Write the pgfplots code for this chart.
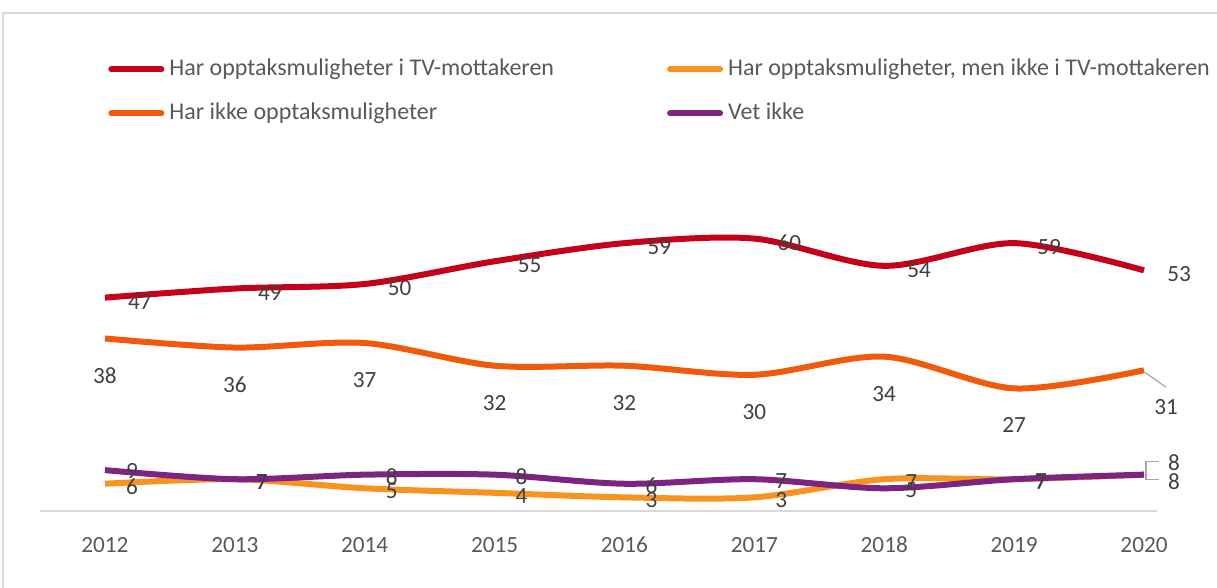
\documentclass[border=0pt]{standalone}
\usepackage{pgfplots}
\pgfplotsset{compat=1.18}
\usepackage{pgfplotstable}
\usepackage{fontspec}
\setmainfont{Carlito}
\definecolor{cRed}{RGB}{197,0,26}
\definecolor{cYel}{RGB}{247,147,30}
\definecolor{cOra}{RGB}{240,90,10}
\definecolor{cPur}{RGB}{125,35,128}
\definecolor{tickgray}{RGB}{89,89,89}
\definecolor{lblgray}{RGB}{64,64,64}
\definecolor{axgray}{RGB}{217,217,217}

\pgfplotstableread{
x y dx dy
0 47 17.5 -2
1 49 17.5 -2
2 50 17.5 -2
3 55 17.5 -2
4 59 17.5 -2
5 60 17.5 -2
6 54 17.5 -2
7 59 17.5 -2
8 53 17.5 -2
}\redtab
\pgfplotstableread{
x y dx dy
0 6 13.5 -1.5
1 7 13.5 -1.5
2 5 13.5 -1.5
3 4 13.5 -1.5
4 3 13.5 -1.5
5 3 13.5 -1.5
6 7 13.5 -1.5
7 7 13.5 -1.5
8 8 15 -3.5
}\yeltab
\pgfplotstableread{
x y dx dy
0 38 0 -18.5
1 36 0 -18.5
2 37 0 -18.5
3 32 0 -18.5
4 32 0 -18.5
5 30 0 -18.5
6 34 0 -18.5
7 27 0 -18.5
8 31 11 -18.5
}\oratab
\pgfplotstableread{
x y dx dy
0 9 13.5 -0.5
1 7 13.5 -1.5
2 8 13.5 -1
3 8 13.5 -1
4 6 13.5 -1
5 7 13.5 -1
6 5 13.5 -1
7 7 13.5 -1
8 8 15 6
}\purtab

\begin{document}
\begin{tikzpicture}
\useasboundingbox (0,0) rectangle (608.5pt,294pt);
\draw[axgray, line width=0.8pt] (1.5pt,-10pt) -- (1.5pt,287.5pt) -- (620pt,287.5pt);
\begin{axis}[
  at={(20pt,38.5pt)}, anchor=south west,
  scale only axis, width=558.5pt, height=227pt,
  xmin=-0.5, xmax=8.1, ymin=0, ymax=100,
  axis x line*=bottom, axis y line=none,
  x axis line style={draw=axgray, line width=1pt, -},
  xtick={0,1,2,3,4,5,6,7,8},
  xticklabels={2012,2013,2014,2015,2016,2017,2018,2019,2020},
  major tick length=0pt,
  xticklabel style={font=\fontsize{11.6}{13}\selectfont, text=tickgray, anchor=center, yshift=-17pt},
  /pgf/number format/assume math mode=true,
  clip=false,
  lbl/.style={
    nodes near coords,
    visualization depends on={\thisrow{dx} \as \dx},
    visualization depends on={\thisrow{dy} \as \dy},
    every node near coord/.append style={anchor=center, xshift=\dx pt, yshift=\dy pt,
      font=\fontsize{11.6}{13}\selectfont, text=lblgray, inner sep=0pt},
  },
  legend columns=2,
  legend cell align=left,
  legend image code/.code={\draw[#1, line width=3pt, line cap=round] (0pt,0pt) -- (25pt,0pt);},
  legend style={at={(0.0555,1.0)}, anchor=north west, yshift=1.5pt, draw=none, fill=none,
    font=\fontsize{12}{14}\selectfont, text=tickgray,
    row sep=11pt,
    nodes={inner sep=0pt, text height=8.5pt, text depth=2.5pt},
    /tikz/every even column/.append style={column sep=56.5pt},
    /tikz/every odd column/.append style={column sep=2.5pt}},
]
\addplot[cRed, line width=3pt, smooth, lbl] table[x=x,y=y] {\redtab};
\addlegendentry{Har opptaksmuligheter i TV-mottakeren}
\addplot[cYel, line width=3pt, smooth, lbl] table[x=x,y=y] {\yeltab};
\addlegendentry{Har opptaksmuligheter, men ikke i TV-mottakeren}
\addplot[cOra, line width=3pt, smooth, lbl] table[x=x,y=y] {\oratab};
\addlegendentry{Har ikke opptaksmuligheter}
\addplot[cPur, line width=3pt, smooth, lbl] table[x=x,y=y] {\purtab};
\addlegendentry{Vet ikke}
\draw[gray!70, line width=0.6pt] ([xshift=0.5pt,yshift=-1pt]axis cs:8,31) -- ([xshift=11pt,yshift=-8.5pt]axis cs:8,31);
\draw[gray!70, line width=0.6pt] ([xshift=7.5pt,yshift=6.5pt]axis cs:8,8) -- ([xshift=1pt,yshift=6.5pt]axis cs:8,8) -- ([xshift=1pt,yshift=-2.5pt]axis cs:8,8) -- ([xshift=7.5pt,yshift=-2.5pt]axis cs:8,8);
\end{axis}
\end{tikzpicture}
\end{document}
